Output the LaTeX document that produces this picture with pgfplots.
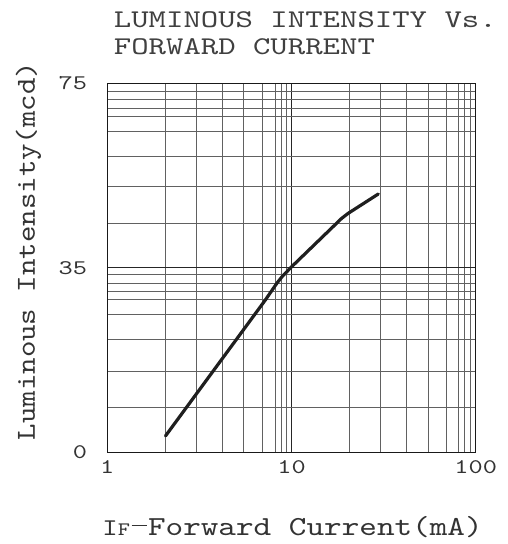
\documentclass[border=0pt]{standalone}
\usepackage{fontspec}
\usepackage{pgfplots}
\pgfplotsset{compat=1.18}
\newfontfamily\ttitle{lmmono10-regular.otf}[FakeStretch=1.3]
\newfontfamily\tlabx{lmmono10-regular.otf}[FakeStretch=1.22]
\newfontfamily\tlaby{lmmono10-regular.otf}[FakeStretch=1.14]
\newfontfamily\ttick{lmmono10-regular.otf}[FakeStretch=1.3]

\begin{document}
\begin{tikzpicture}
\useasboundingbox (-107.3pt,-91.7pt) rectangle (399.7pt,452.3pt);
\begin{axis}[
    scale only axis,
    width=368.4pt,
    height=369pt,
    xmode=log,
    xmin=1, xmax=100,
    ymin=0, ymax=75,
    % the printed y scale is 0-35-75 over two equal "decades"
    y coord trafo/.code={\pgfmathparse{min(#1,35)/35+max(#1-35,0)/40}},
    y coord inv trafo/.code={\pgfmathparse{min(#1,1)*35+max(#1-1,0)*40}},
    xtick={1,10,100},
    xticklabels={1,10,100},
    minor xtick={2.07,3.04,4.19,5.51,6.97,8.18,8.83,9.44,
                 20.6,30.2,41.8,55.3,69.5,80.5,86.7,93.1},
    ytick={0,35,75},
    yticklabels={0,35,75},
    minor ytick={8.55,15.44,21.33,26.07,28.92,30.44,32.09,33.67,
                 44.66,52.58,59.22,64.62,67.86,69.66,71.47,73.34},
    grid=both,
    major grid style={black!85, line width=0.8pt},
    minor grid style={black!62, line width=0.8pt},
    major tick length=0pt,
    minor tick length=0pt,
    axis line style={black!90, line width=1.1pt},
    xticklabel style={font=\ttick\fontsize{20.8}{21}\selectfont, text=black!80,
        anchor=base, inner sep=0pt, yshift=-21.5pt},
    yticklabel style={font=\ttick\fontsize{20.8}{21}\selectfont, text=black!80,
        anchor=east, inner sep=0pt, xshift=-20pt},
]
\addplot[black!88, line width=3.2pt, line join=round, line cap=round] coordinates {
    (2.07,3.1)
    (7.18,28.8)
    (8.34,32.1)
    (8.93,33.4)
    (10.0,35.2)
    (18.7,45.7)
    (20.3,46.8)
    (29.6,51.0)
};
\end{axis}
\node[anchor=base west, inner sep=0pt, text=black!75, font=\ttitle\fontsize{25.5}{27.7}\selectfont]
    at (6.4pt,425pt) {LUMINOUS INTENSITY Vs.};
\node[anchor=base west, inner sep=0pt, text=black!75, font=\ttitle\fontsize{25.5}{27.7}\selectfont]
    at (6.4pt,397.3pt) {FORWARD CURRENT};
\node[anchor=base, inner sep=0pt, rotate=90, text=black!80, font=\tlaby\fontsize{27.5}{27}\selectfont]
    at (-72.3pt,201.3pt) {Luminous Intensity(mcd)};
\node[anchor=base west, inner sep=0pt, text=black!80, font=\tlabx\fontsize{27.5}{27}\selectfont]
    at (-5pt,-82.7pt) {{\fontsize{24}{24}\selectfont I\fontsize{19}{19}\selectfont F}\kern1.5pt\rule[9pt]{15pt}{1.1pt}\kern1.5pt Forward Current(mA)};
\end{tikzpicture}
\end{document}
